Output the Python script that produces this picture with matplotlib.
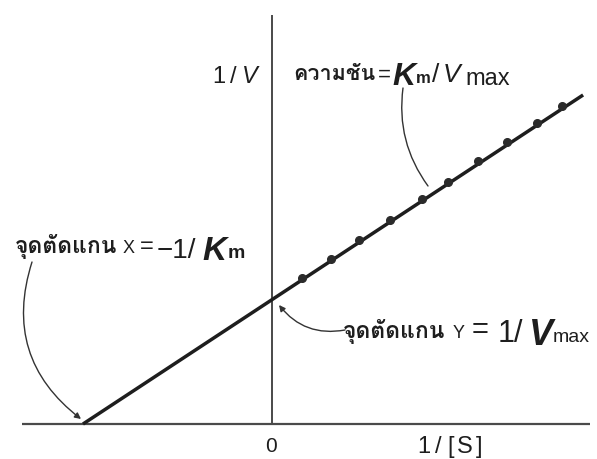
import matplotlib
matplotlib.use("Agg")
import matplotlib.pyplot as plt
from matplotlib import font_manager
from matplotlib.ft2font import FT2Font

# Lineweaver–Burk plot: 1/V versus 1/[S]
km = 1.0
vmax = 1.52
inv_s = [0.157, 0.311, 0.462, 0.624, 0.795, 0.933, 1.092, 1.242, 1.401, 1.533]
inv_v = [0.771, 0.873, 0.974, 1.079, 1.189, 1.282, 1.393, 1.494, 1.594, 1.683]
line_x_end = 1.646
x_axis_span = [-1.323, 1.683]
y_axis_top = 2.164

slope_th = "ความชัน"
x_int_th = "จุดตัดแกน"
y_int_th = "จุดตัดแกน"

LATIN = "Liberation Sans"


def find_thai_family():
    """Return an installed family that covers Thai, preferring a bold face."""
    found = []
    for fe in font_manager.fontManager.ttflist:
        try:
            if FT2Font(fe.fname).get_char_index(0x0E01):
                found.append(fe)
        except Exception:
            continue
    if not found:
        return None
    found.sort(key=lambda fe: (0 if str(fe.weight) in ("bold", "700", "heavy", "800", "900") else 1))
    return found[0].name


thai_family = find_thai_family()
THAI = [thai_family, "DejaVu Sans"] if thai_family else ["DejaVu Sans"]

W, H, DPI = 597, 459, 100
SCALE = 189.0          # pixels per data unit
OX, OY = 272.0, 424.0  # origin in pixel coordinates

fig = plt.figure(figsize=(W / DPI, H / DPI), dpi=DPI)
ax = fig.add_axes([0, 0, 1, 1])
ax.set_xlim(-OX / SCALE, (W - OX) / SCALE)
ax.set_ylim(-(H - OY) / SCALE, OY / SCALE)
ax.axis("off")

axis_color = "#4a4a4a"
ink = "#1e1e1e"

# axes
ax.plot(x_axis_span, [0, 0], color=axis_color, lw=1.6, solid_capstyle="butt")
ax.plot([0, 0], [0, y_axis_top], color=axis_color, lw=1.4, solid_capstyle="butt")

# fitted line from the x-intercept (-1/Km) outwards
x_int = -1.0 / km
y_int = 1.0 / vmax
slope = km / vmax
ax.plot([x_int, line_x_end], [0, y_int + slope * line_x_end], color=ink, lw=2.5,
         solid_capstyle="butt", zorder=3)
ax.plot(inv_s, inv_v, "o", color="#2b2b2b", ms=5.5, zorder=4)

renderer = fig.canvas.get_renderer()


def to_data(px, py):
    return ((px - OX) / SCALE, (OY - py) / SCALE)


def draw_run(x0, base, pieces):
    """Draw text pieces left to right; each is (text, props, dy, gap)."""
    x = x0
    for text, props, dy, gap in pieces:
        t = ax.text(*to_data(x + gap, base + dy), text, ha="left", va="baseline",
                    color=ink, **props)
        x = t.get_window_extent(renderer).x1


th_bold = dict(family=THAI, fontweight="bold")
lat = dict(family=LATIN)
lat_it = dict(family=LATIN, style="italic")
lat_bi = dict(family=LATIN, style="italic", fontweight="bold")
lat_b = dict(family=LATIN, fontweight="bold")

# axis titles
draw_run(212, 83, [("1", dict(lat, fontsize=17), 0, 0),
                   ("/", dict(lat, fontsize=17), 0, 5),
                   ("V", dict(lat_it, fontsize=17), 0, 5)])
ax.text(*to_data(271, 452), "0", ha="center", va="baseline", color=ink,
        family=LATIN, fontsize=15)
draw_run(417, 453, [("1", dict(lat, fontsize=17), 0, 0),
                    ("/", dict(lat, fontsize=17), 0, 5),
                    ("[", dict(lat, fontsize=17), 0, 6),
                    ("S", dict(lat, fontsize=17), 0, 3),
                    ("]", dict(lat, fontsize=17), 0, 3)])

# slope label
draw_run(293, 80, [(slope_th, dict(th_bold, fontsize=15.5), 0, 0),
                   ("=", dict(lat, fontsize=16), 1, 3),
                   ("K", dict(lat_bi, fontsize=23), 5, 1),
                   ("m", dict(lat_b, fontsize=12), 3, 0),
                   ("/", dict(lat, fontsize=19), 2, 2),
                   ("V", dict(lat_it, fontsize=19), 2, 3),
                   ("max", dict(lat, fontsize=17), 5, 5)])

# x-intercept label
draw_run(15, 253, [(x_int_th, dict(th_bold, fontsize=16.5), 0, 0),
                   ("X", dict(lat, fontsize=13), 0, 5),
                   ("=", dict(lat, fontsize=17), 0, 5),
                   ("\u22121/", dict(lat, fontsize=20), 5, 3),
                   ("K", dict(lat_bi, fontsize=24), 7, 7),
                   ("m", dict(lat_b, fontsize=14), 5, 1)])

# y-intercept label
draw_run(343, 338, [(y_int_th, dict(th_bold, fontsize=16.5), 0, 0),
                    ("Y", dict(lat, fontsize=13), 0, 7),
                    ("=", dict(lat, fontsize=21), 0, 7),
                    ("1/", dict(lat, fontsize=22), 4, 9),
                    ("V", dict(lat_bi, fontsize=26), 7, 6),
                    ("max", dict(lat, fontsize=14), 4, 0)])

# curved pointers
arrow_kw = dict(color="#333333", lw=1.0, shrinkA=0, shrinkB=0)
ax.annotate("", xy=to_data(428, 186), xytext=to_data(403, 88),
            arrowprops=dict(arrowstyle="-", connectionstyle="arc3,rad=0.2", **arrow_kw))
ax.annotate("", xy=to_data(81, 419), xytext=to_data(32, 262),
            arrowprops=dict(arrowstyle="-|>", mutation_scale=9,
                            connectionstyle="arc3,rad=0.35", **arrow_kw))
ax.annotate("", xy=to_data(279, 305), xytext=to_data(345, 330),
            arrowprops=dict(arrowstyle="-|>", mutation_scale=9,
                            connectionstyle="arc3,rad=-0.3", **arrow_kw))

fig.savefig("out.png", dpi=DPI, facecolor="white")
